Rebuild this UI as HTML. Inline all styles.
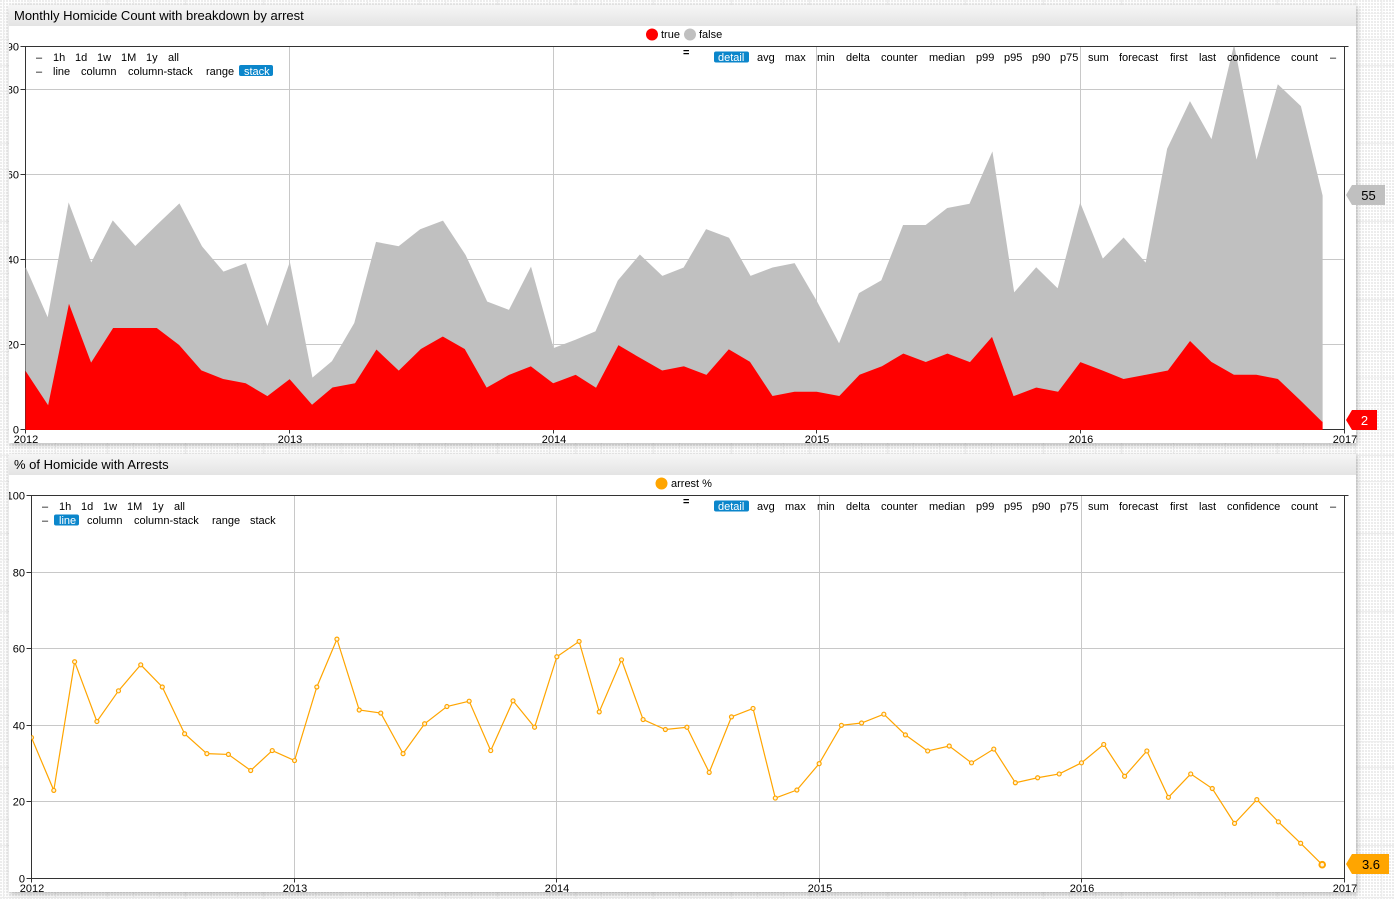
<!DOCTYPE html>
<html lang="en">
<head>
<meta charset="utf-8">
<title>Homicide Dashboard</title>
<style>
html,body{margin:0;padding:0;width:1394px;height:899px;overflow:hidden}
body{position:relative;background-color:#fff;
background-image:
repeating-linear-gradient(90deg,#ececec 0 1px,transparent 1px 26px),
repeating-linear-gradient(0deg,#ececec 0 1px,transparent 1px 26px),
radial-gradient(circle at 1px 1px,#e8e8e8 0.9px,transparent 1.1px);
background-size:auto,auto,3px 3px;
background-position:3px 0,0 -1px,0 0;
background-repeat:repeat,repeat,repeat;
}
.widget{position:absolute;left:9px;width:1347px;background:#fff;box-shadow:1px 2px 5px rgba(0,0,0,.28)}
.head{height:21px;background:linear-gradient(#f6f6f6,#e4e4e4);font:13px/21px "Liberation Sans",sans-serif;color:#000;padding-left:5px;box-sizing:border-box}
svg{position:absolute;left:0;top:0}
svg text{font-family:"Liberation Sans",sans-serif;font-size:11px;fill:#000}
.on{fill:#fff}
</style>
</head>
<body>
<div class="widget" style="top:5px;height:438px">
<div class="head">Monthly Homicide Count with breakdown by arrest</div>
</div>
<div class="widget" style="top:454px;height:438px">
<div class="head">% of Homicide with Arrests</div>
</div>

<svg id="stage" width="1394" height="899" viewBox="0 0 1394 899">
<defs>
<clipPath id="clip-left"><rect x="9" y="0" width="1385" height="899"/></clipPath>
<clipPath id="clip-plot-1"><rect x="25.5" y="40" width="1320" height="390"/></clipPath>
<clipPath id="clip-plot-2"><rect x="31.5" y="490" width="1320" height="400"/></clipPath>
</defs>
<g id="chart-1" clip-path="url(#clip-left)"></g>
<g id="chart-2" clip-path="url(#clip-left)"></g>

<g>
<circle cx="652" cy="34.5" r="6" fill="#ff0000"/>
<text x="661" y="38">true</text>
<circle cx="690" cy="34.5" r="6" fill="#c0c0c0"/>
<text x="699" y="38">false</text>
</g>
<g>
<circle cx="661.5" cy="483.5" r="6" fill="#ffa500"/>
<text x="671" y="487">arrest %</text>
</g>

<g>
<text x="36" y="61">–</text>
<text x="53" y="61">1h</text>
<text x="75" y="61">1d</text>
<text x="97" y="61">1w</text>
<text x="121" y="61">1M</text>
<text x="146" y="61">1y</text>
<text x="168" y="61">all</text>
</g>
<g>
<text x="36" y="75">–</text>
<text x="53" y="75">line</text>
<text x="81" y="75">column</text>
<text x="128" y="75">column-stack</text>
<text x="206" y="75">range</text>
<rect x="239" y="65" width="34" height="11" rx="2" fill="#0b86cb"/>
<text class="on" x="244" y="75">stack</text>
</g>
<g>
<text x="683" y="56" style="font-weight:bold">=</text>
<rect x="714" y="51.5" width="35" height="11" rx="2" fill="#0b86cb"/>
<text class="on" x="718" y="61">detail</text>
<text x="757" y="61">avg</text>
<text x="785" y="61">max</text>
<text x="817" y="61">min</text>
<text x="846" y="61">delta</text>
<text x="881" y="61">counter</text>
<text x="929" y="61">median</text>
<text x="976" y="61">p99</text>
<text x="1004" y="61">p95</text>
<text x="1032" y="61">p90</text>
<text x="1060" y="61">p75</text>
<text x="1088" y="61">sum</text>
<text x="1119" y="61">forecast</text>
<text x="1170" y="61">first</text>
<text x="1199" y="61">last</text>
<text x="1227" y="61">confidence</text>
<text x="1291" y="61">count</text>
<text x="1330" y="61">–</text>
</g>

<g>
<text x="42" y="510">–</text>
<text x="59" y="510">1h</text>
<text x="81" y="510">1d</text>
<text x="103" y="510">1w</text>
<text x="127" y="510">1M</text>
<text x="152" y="510">1y</text>
<text x="174" y="510">all</text>
</g>
<g>
<text x="42" y="524">–</text>
<rect x="54" y="514.5" width="25" height="11" rx="2" fill="#0b86cb"/>
<text class="on" x="59" y="524">line</text>
<text x="87" y="524">column</text>
<text x="134" y="524">column-stack</text>
<text x="212" y="524">range</text>
<text x="250" y="524">stack</text>
</g>
<g>
<text x="683" y="505" style="font-weight:bold">=</text>
<rect x="714" y="500.5" width="35" height="11" rx="2" fill="#0b86cb"/>
<text class="on" x="718" y="510">detail</text>
<text x="757" y="510">avg</text>
<text x="785" y="510">max</text>
<text x="817" y="510">min</text>
<text x="846" y="510">delta</text>
<text x="881" y="510">counter</text>
<text x="929" y="510">median</text>
<text x="976" y="510">p99</text>
<text x="1004" y="510">p95</text>
<text x="1032" y="510">p90</text>
<text x="1060" y="510">p75</text>
<text x="1088" y="510">sum</text>
<text x="1119" y="510">forecast</text>
<text x="1170" y="510">first</text>
<text x="1199" y="510">last</text>
<text x="1227" y="510">confidence</text>
<text x="1291" y="510">count</text>
<text x="1330" y="510">–</text>
</g>

<g>
<polygon points="1346,195 1352,185 1385,185 1385,205 1352,205" fill="#c0c0c0"/>
<text id="callout-false" x="1368.5" y="200" text-anchor="middle" style="font-size:13px">55</text>
</g>
<g>
<polygon points="1346,420 1352,410 1377,410 1377,430 1352,430" fill="#ff0000"/>
<text id="callout-true" x="1364.5" y="425" text-anchor="middle" style="font-size:13px;fill:#fff">2</text>
</g>
<g>
<polygon points="1346,864 1352,854 1389,854 1389,874 1352,874" fill="#ffa500"/>
<text id="callout-arrest" x="1371" y="869" text-anchor="middle" style="font-size:13px">3.6</text>
</g>
</svg>

<script>
const categories = [
'2012-01','2012-02','2012-03','2012-04','2012-05','2012-06','2012-07','2012-08','2012-09','2012-10','2012-11','2012-12',
'2013-01','2013-02','2013-03','2013-04','2013-05','2013-06','2013-07','2013-08','2013-09','2013-10','2013-11','2013-12',
'2014-01','2014-02','2014-03','2014-04','2014-05','2014-06','2014-07','2014-08','2014-09','2014-10','2014-11','2014-12',
'2015-01','2015-02','2015-03','2015-04','2015-05','2015-06','2015-07','2015-08','2015-09','2015-10','2015-11','2015-12',
'2016-01','2016-02','2016-03','2016-04','2016-05','2016-06','2016-07','2016-08','2016-09','2016-10','2016-11','2016-12'];
const trueCounts = [
14,6,30,16,24,24,24,20,14,12,11,8,
12,6,10,11,19,14,19,22,19,10,13,15,
11,13,10,20,17,14,15,13,19,16,8,9,
9,8,13,15,18,16,18,16,22,8,10,9,
16,14,12,13,14,21,16,13,13,12,7,2];
const falseCounts = [
24,20,23,23,25,19,24,33,29,25,28,16,
27,6,6,14,25,29,28,27,22,20,15,23,
8,8,13,15,24,22,23,34,26,20,30,30,
21,12,19,20,30,32,34,37,43,24,28,24,
37,26,33,26,52,56,52,77,50,69,69,53];
const arrestPercent = [
36.8,23,56.6,41,49,55.8,50,37.8,32.6,32.4,28.2,33.4,
30.8,50,62.5,44,43.2,32.6,40.4,44.9,46.3,33.4,46.4,39.5,
57.9,61.9,43.5,57.1,41.5,38.9,39.5,27.7,42.2,44.4,21,23.1,
30,40,40.6,42.9,37.5,33.3,34.6,30.2,33.8,25,26.3,27.3,
30.2,35,26.7,33.3,21.2,27.3,23.5,14.4,20.6,14.8,9.2,3.6];
const yearTicks = ['2012','2013','2014','2015','2016','2017'];
const countTicks = [0,20,40,60,80,90];
const percentTicks = [0,20,40,60,80,100];
const countDomainMax = 90.1;
const percentDomainMax = 100;

const NS = 'http://www.w3.org/2000/svg';
function make(parent, tag, attrs, text) {
  const el = document.createElementNS(NS, tag);
  for (const k in attrs) el.setAttribute(k, attrs[k]);
  if (text !== undefined) el.textContent = text;
  parent.appendChild(el);
  return el;
}
function dateValue(s) {
  const p = s.split('-');
  return Date.UTC(+p[0], (p[1] ? +p[1] : 1) - 1, 1);
}
function timeScale(left, right) {
  const t0 = dateValue(yearTicks[0]);
  const t1 = dateValue(yearTicks[yearTicks.length - 1]);
  return function (s) { return left + (dateValue(s) - t0) / (t1 - t0) * (right - left); };
}
function linearScale(maxValue, bottom, top) {
  return function (v) { return bottom - v / maxValue * (bottom - top); };
}
function drawFrame(g, x, y, left, right, top, bottom, yTicks, labelX) {
  yTicks.forEach(function (t) {
    const py = Math.round(y(t) - 0.5) + 0.5;
    if (t > 0 && py > top + 1) {
      const grid = make(g, 'line', {x1: left, x2: right, y1: py, y2: py, stroke: '#c8c8c8'});
      
      
    }
    const tick = make(g, 'line', {x1: left - 5, x2: left, y1: py, y2: py, stroke: '#333'});
    
    
    const label = make(g, 'text', {x: labelX, y: py + 4, 'text-anchor': 'end'}, String(t));
    
    
  });
  yearTicks.forEach(function (t, i) {
    const px = Math.round(x(t) - 0.5) + 0.5;
    if (i > 0 && i < yearTicks.length - 1) {
      const grid = make(g, 'line', {x1: px, x2: px, y1: top, y2: bottom, stroke: '#c8c8c8'});
      
      
    }
    const tick = make(g, 'line', {x1: px, x2: px, y1: bottom, y2: bottom + 4, stroke: '#333'});
    
    
    const label = make(g, 'text', {x: px + 0.5, y: bottom + 13.5, 'text-anchor': 'middle'}, t);
    
    
  });
  const axes = make(g, 'path', {
    d: 'M' + left + ' ' + bottom + 'V' + top + 'H' + (right + 4) + 'M' + right + ' ' + top + 'V' + bottom + 'H' + left,
    fill: 'none', stroke: '#333'
  });
  
  
}

/* Chart 1: stacked areas */
(function () {
  const g = document.getElementById('chart-1');
  const left = 25.5, right = 1344.5, top = 46.5, bottom = 429.5;
  const x = timeScale(left, right);
  const y = linearScale(countDomainMax, bottom, top);
  drawFrame(g, x, y, left, right, top, bottom, countTicks, 19);
  const plot = make(g, 'g', {'clip-path': 'url(#clip-plot-1)'});
  
  
  const last = x(categories[categories.length - 1]);
  let lower = 'M' + left + ' ' + bottom;
  categories.forEach(function (c, i) {
    lower += 'L' + x(c).toFixed(2) + ' ' + y(trueCounts[i]).toFixed(2);
  });
  lower += 'L' + last.toFixed(2) + ' ' + bottom + 'Z';
  const trueArea = make(plot, 'path', {d: lower, fill: '#ff0000', stroke: '#ff0000', 'stroke-width': 1});
  
  
  let band = '';
  categories.forEach(function (c, i) {
    band += (i ? 'L' : 'M') + x(c).toFixed(2) + ' ' + y(trueCounts[i] + falseCounts[i]).toFixed(2);
  });
  for (let i = categories.length - 1; i >= 0; i--) {
    band += 'L' + x(categories[i]).toFixed(2) + ' ' + y(trueCounts[i]).toFixed(2);
  }
  band += 'Z';
  const falseArea = make(plot, 'path', {d: band, fill: '#c0c0c0', stroke: '#c0c0c0', 'stroke-width': 1});
  
  
  document.getElementById('callout-false').textContent = String(falseCounts[falseCounts.length - 1] + trueCounts[trueCounts.length - 1]);
  document.getElementById('callout-true').textContent = String(trueCounts[trueCounts.length - 1]);
})();

/* Chart 2: line with markers */
(function () {
  const g = document.getElementById('chart-2');
  const left = 31.5, right = 1344.5, top = 495.5, bottom = 878.5;
  const x = timeScale(left, right);
  const y = linearScale(percentDomainMax, bottom, top);
  drawFrame(g, x, y, left, right, top, bottom, percentTicks, 25);
  const plot = make(g, 'g', {'clip-path': 'url(#clip-plot-2)'});
  
  
  let d = '';
  categories.forEach(function (c, i) {
    d += (i ? 'L' : 'M') + x(c).toFixed(2) + ' ' + y(arrestPercent[i]).toFixed(2);
  });
  const line = make(plot, 'path', {d: d, fill: 'none', stroke: '#ffa500', 'stroke-width': 1.2});
  
  
  categories.forEach(function (c, i) {
    const isLast = i === categories.length - 1;
    const dot = make(plot, 'circle', {
      cx: x(c).toFixed(2), cy: y(arrestPercent[i]).toFixed(2),
      r: isLast ? 2.8 : 2, fill: '#fff4dd', stroke: '#ffa500', 'stroke-width': isLast ? 2 : 1.2
    });
    
    
  });
  document.getElementById('callout-arrest').textContent = String(arrestPercent[arrestPercent.length - 1]);
})();
</script>
</body>
</html>
